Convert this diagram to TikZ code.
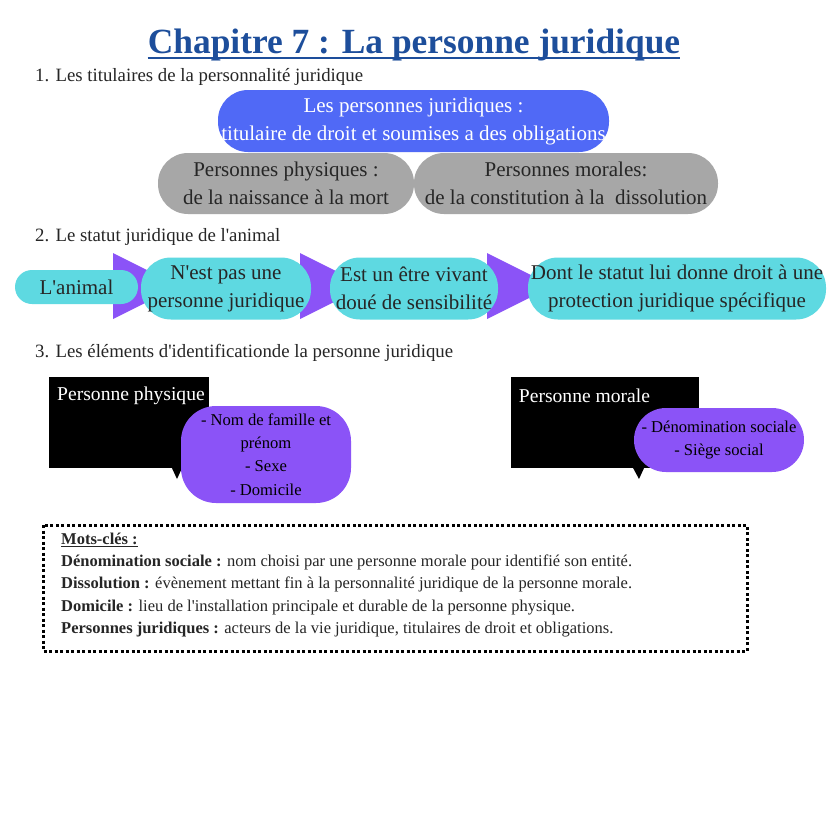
\documentclass[tikz,border=0pt]{standalone}
\usepackage{fontspec}
\setmainfont{Liberation Serif}
\usepackage{xcolor}
\usetikzlibrary{positioning}
\definecolor{titleblue}{HTML}{1D4E9B}
\definecolor{boxblue}{HTML}{5069F6}
\definecolor{boxgray}{HTML}{A7A7A7}
\definecolor{cyanbox}{HTML}{5ED9E1}
\definecolor{violet}{HTML}{8B53F7}
\definecolor{ink}{HTML}{262626}
\newcommand{\ap}{\textquotesingle}
\tikzset{
  heading/.style={anchor=west, text=ink, font=\fontsize{18.8}{22}\selectfont, inner sep=0pt},
  pill/.style={rounded corners=30pt, inner sep=0pt, align=center, font=\fontsize{21}{28}\selectfont},
  chevron/.style={fill=violet, draw=none},
  blackbox/.style={fill=black, inner sep=0pt},
  blacklab/.style={text=white, font=\fontsize{19.6}{22}\selectfont, inner sep=0pt},
  bubble/.style={fill=violet, rounded corners=35pt, inner sep=0pt, align=center, text=black, font=\fontsize{16.6}{23.3}\selectfont},
}

\begin{document}
\begin{tikzpicture}[x=1pt,y=-1pt]
\useasboundingbox[fill=white] (0,0) rectangle (828,828);

% title
\node[anchor=base, inner sep=0pt, text=titleblue, font=\fontsize{35.4}{38}\bfseries] (title) at (414,53) {Chapitre 7 : La personne juridique};
\draw[titleblue, line width=2.5pt] ([yshift=-5pt]title.base west) -- ([yshift=-5pt]title.base east);

% part 1
\node[heading] (h1) at (35,77) {1. Les titulaires de la personnalité juridique};
\node[pill, fill=boxblue, text=white, minimum width=391pt, minimum height=62pt] (pj) at (413.5,121)
  {Les personnes juridiques :\\titulaire de droit et soumises a des obligations};
\node[pill, fill=boxgray, text=ink, minimum width=256pt, minimum height=61pt] (pp) at (286,183.5)
  {Personnes physiques :\\de la naissance à la mort};
\node[pill, fill=boxgray, text=ink, minimum width=304pt, minimum height=61pt] (pm) at (566,183.5)
  {Personnes morales:\\de la constitution à la\ \ dissolution};

% part 2
\node[heading] (h2) at (35,237) {2. Le statut juridique de l\ap animal};
\foreach \x in {113,300,487}
  \fill[chevron] (\x,253) -- (\x+66,286) -- (\x,319) -- cycle;
\node[pill, fill=cyanbox, text=ink, rounded corners=17pt, minimum width=123pt, minimum height=34pt] (animal) at (76.5,287) {L\ap animal};
\node[pill, fill=cyanbox, text=ink, minimum width=170pt, minimum height=62pt] (notp) at (226,288.5)
  {N\ap est pas une\\personne juridique};
\node[pill, fill=cyanbox, text=ink, minimum width=168pt, minimum height=62pt] (vivant) at (414,288.5)
  {Est un être vivant\\doué de sensibilité};
\node[pill, fill=cyanbox, text=ink, minimum width=298pt, minimum height=62pt] (protec) at (677,288.5)
  {Dont le statut lui donne droit à une\\protection juridique spécifique};

% part 3
\node[heading] (h3) at (35,353) {3. Les éléments d\ap identificationde la personne juridique};
\node[blackbox, minimum width=160pt, minimum height=91pt] (phys) at (129,422.5) {};
\node[blacklab] (physlab) at (131,396) {Personne physique};
\fill (171,466) -- (183,466) -- (177,479) -- cycle;
\node[bubble, minimum width=170pt, minimum height=97pt] (physel) at (266,454.5)
  {- Nom de famille et\\prénom\\- Sexe\\- Domicile};

\node[blackbox, minimum width=188pt, minimum height=91pt] (mor) at (605,422.5) {};
\node[blacklab] (morlab) at (584.5,396) {Personne morale};
\fill (632,466) -- (645,466) -- (639,479) -- cycle;
\node[bubble, rounded corners=32pt, minimum width=170pt, minimum height=64pt] (morel) at (719,440)
  {- Dénomination sociale\\- Siège social};

% mots-cles
\draw[line width=3pt, dash pattern=on 3pt off 2.5pt] (43,525) rectangle (747,651);
\node[anchor=north west, align=left, inner sep=0pt, text=ink, font=\fontsize{16.5}{22.4}\selectfont] (mots) at (61,532.5)
  {\textbf{\underline{Mots-clés :}}\\
   \textbf{Dénomination sociale :} nom choisi par une personne morale pour identifié son entité.\\
   \textbf{Dissolution :} évènement mettant fin à la personnalité juridique de la personne morale.\\
   \textbf{Domicile :} lieu de l\ap installation principale et durable de la personne physique.\\
   \textbf{Personnes juridiques :} acteurs de la vie juridique, titulaires de droit et obligations.};
\end{tikzpicture}
\end{document}
